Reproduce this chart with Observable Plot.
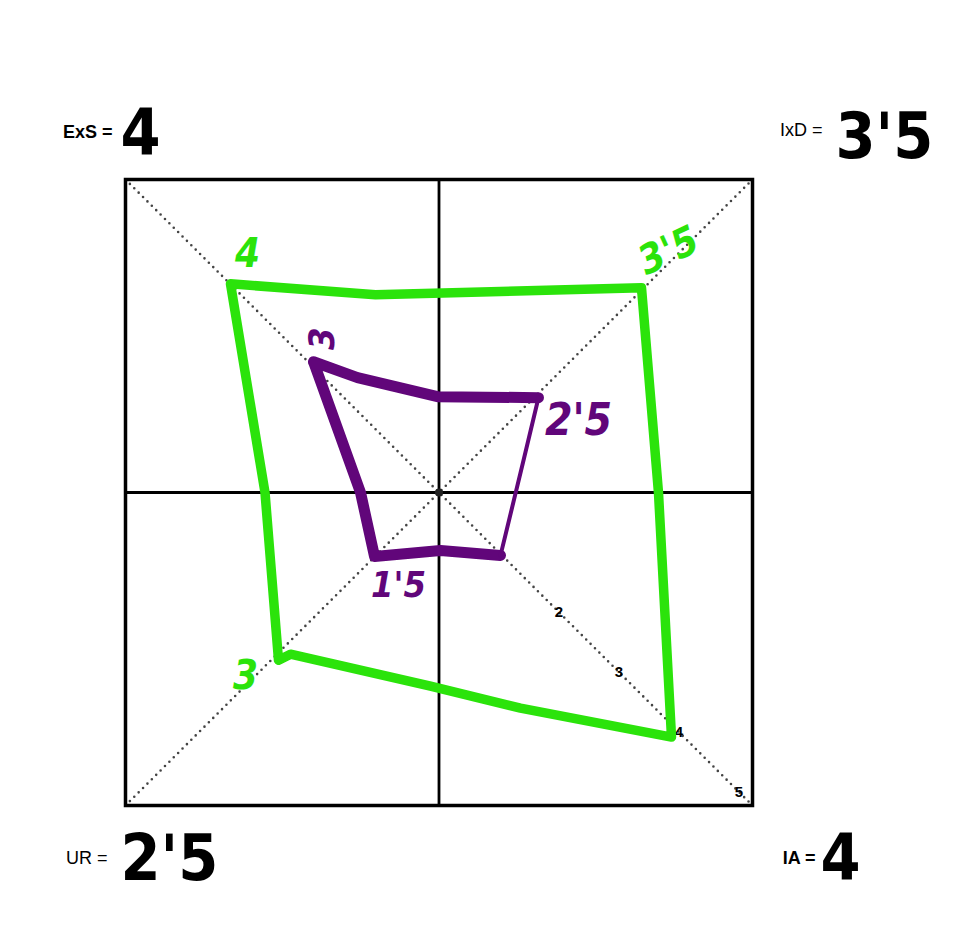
<!DOCTYPE html>
<html><head><meta charset="utf-8">
<script src="https://cdn.jsdelivr.net/npm/d3@7"></script>
<script src="https://cdn.jsdelivr.net/npm/@observablehq/plot@0.6"></script>
<style>body{margin:0;background:#fff}</style>
</head><body><div id="chart"></div>
<script>
// ---- data ----
const dims = ["ExS", "IxD", "UR", "IA"];
const dimValues = ["4", "3'5", "2'5", "4"];
const tickValues = [2, 3, 4, 5];
// green (hand-drawn) outline, in axis units
const greenX = [-3.475, -1.058, 3.375, 3.658, 3.875, 1.358, -0.142, -2.475, -2.675, -2.900];
const greenY = [3.483, 3.300, 3.417, 0.000, -4.083, -3.600, -3.233, -2.700, -2.800, 0.000];
const greenLabels = ["4", "3'5", "3"];
// purple (hand-drawn) outline, starting at IA vertex
const purpleX = [1.025, 0.025, -1.075, -1.308, -2.092, -1.358, -0.025, 1.658, 1.408];
const purpleY = [-1.050, -0.967, -1.067, 0.000, 2.183, 1.917, 1.600, 1.583, 0.533];
const purpleLabels = ["3", "2'5", "1'5"];

// ---- layout (not data) ----
const R = 5.225;
const GREEN = "#2be30b", PURPLE = "#61067a";
const px = (x) => (x - 438.5) / 60, py = (y) => (492 - y) / 60;
const dimLabelPos = [[112, 131], [822, 129], [107, 858], [815, 858]];
const dimValuePos = [[120, 133], [835, 136], [120, 860], [820, 860]];
const dimWeights = ["bold", "normal", "normal", "bold"];
const greenLabelPos = [[247, 253, 0], [668, 250, -25], [245, 676, 0]];
const purpleLabelPos = [[322, 338, -90], [578, 420, 0], [398, 585, 0]];
const HAND = "Liberation Sans Narrow, DejaVu Sans Condensed, DejaVu Sans, sans-serif";

const green = greenX.map((x, i) => ({x, y: greenY[i]}));
green.push(green[0]);
const purple = purpleX.map((x, i) => ({x, y: purpleY[i]}));
const purpleThick = purple.slice(0, 8);
const purpleThin = purple.slice(7).concat([purple[0]]);

const chart = Plot.plot({
  width: 953, height: 930,
  marginLeft: 125, marginRight: 201, marginTop: 179, marginBottom: 125,
  x: {domain: [-R, R], axis: null},
  y: {domain: [-R, R], axis: null},
  style: {background: "white", fontFamily: "Liberation Sans, Arial, sans-serif"},
  marks: [
    Plot.line([[-R, -R], [R, R]], {stroke: "#444", strokeWidth: 2.6, strokeDasharray: "0,6.2", strokeLinecap: "round"}),
    Plot.line([[-R, R], [R, -R]], {stroke: "#444", strokeWidth: 2.6, strokeDasharray: "0,6.2", strokeLinecap: "round"}),
    Plot.ruleX([0], {stroke: "black", strokeWidth: 2.8}),
    Plot.ruleY([0], {stroke: "black", strokeWidth: 2.8}),
    Plot.dot([[0, 0]], {r: 4, fill: "#222"}),
    Plot.frame({stroke: "black", strokeWidth: 3.5}),
    Plot.text(tickValues, {x: d => d, y: d => -d, text: d => String(d), fontSize: 15, fontWeight: "bold", fill: "black"}),
    Plot.line(green, {x: "x", y: "y", stroke: GREEN, strokeWidth: 9.5, strokeLinejoin: "round", strokeLinecap: "round"}),
    Plot.line(purpleThick, {x: "x", y: "y", stroke: PURPLE, strokeWidth: 11, strokeLinejoin: "round", strokeLinecap: "round"}),
    Plot.line(purpleThin, {x: "x", y: "y", stroke: PURPLE, strokeWidth: 4, strokeLinejoin: "round", strokeLinecap: "round"}),
    // hand-written values on the outlines
    ...greenLabels.map((t, i) => Plot.text([t], {x: px(greenLabelPos[i][0]), y: py(greenLabelPos[i][1]), text: d => d,
      fill: GREEN, fontSize: 40, fontWeight: "bold", fontStyle: "italic", rotate: greenLabelPos[i][2], fontFamily: HAND})),
    ...purpleLabels.map((t, i) => Plot.text([t], {x: px(purpleLabelPos[i][0]), y: py(purpleLabelPos[i][1]), text: d => d,
      fill: PURPLE, fontSize: i === 1 ? 44 : 36, fontWeight: "bold", fontStyle: "italic", rotate: purpleLabelPos[i][2], fontFamily: HAND})),
    // corner labels
    ...dims.map((t, i) => Plot.text([t + " ="], {x: px(dimLabelPos[i][0]), y: py(dimLabelPos[i][1]), text: d => d,
      textAnchor: "end", fontSize: 18, fontWeight: dimWeights[i], fill: "black"})),
    ...dimValues.map((t, i) => Plot.text([t], {x: px(dimValuePos[i][0]), y: py(dimValuePos[i][1]), text: d => d,
      textAnchor: "start", fontSize: 64, fontWeight: "bold", fill: "black", fontFamily: HAND}))
  ]
});
document.getElementById("chart").appendChild(chart);
</script>
</body></html>
